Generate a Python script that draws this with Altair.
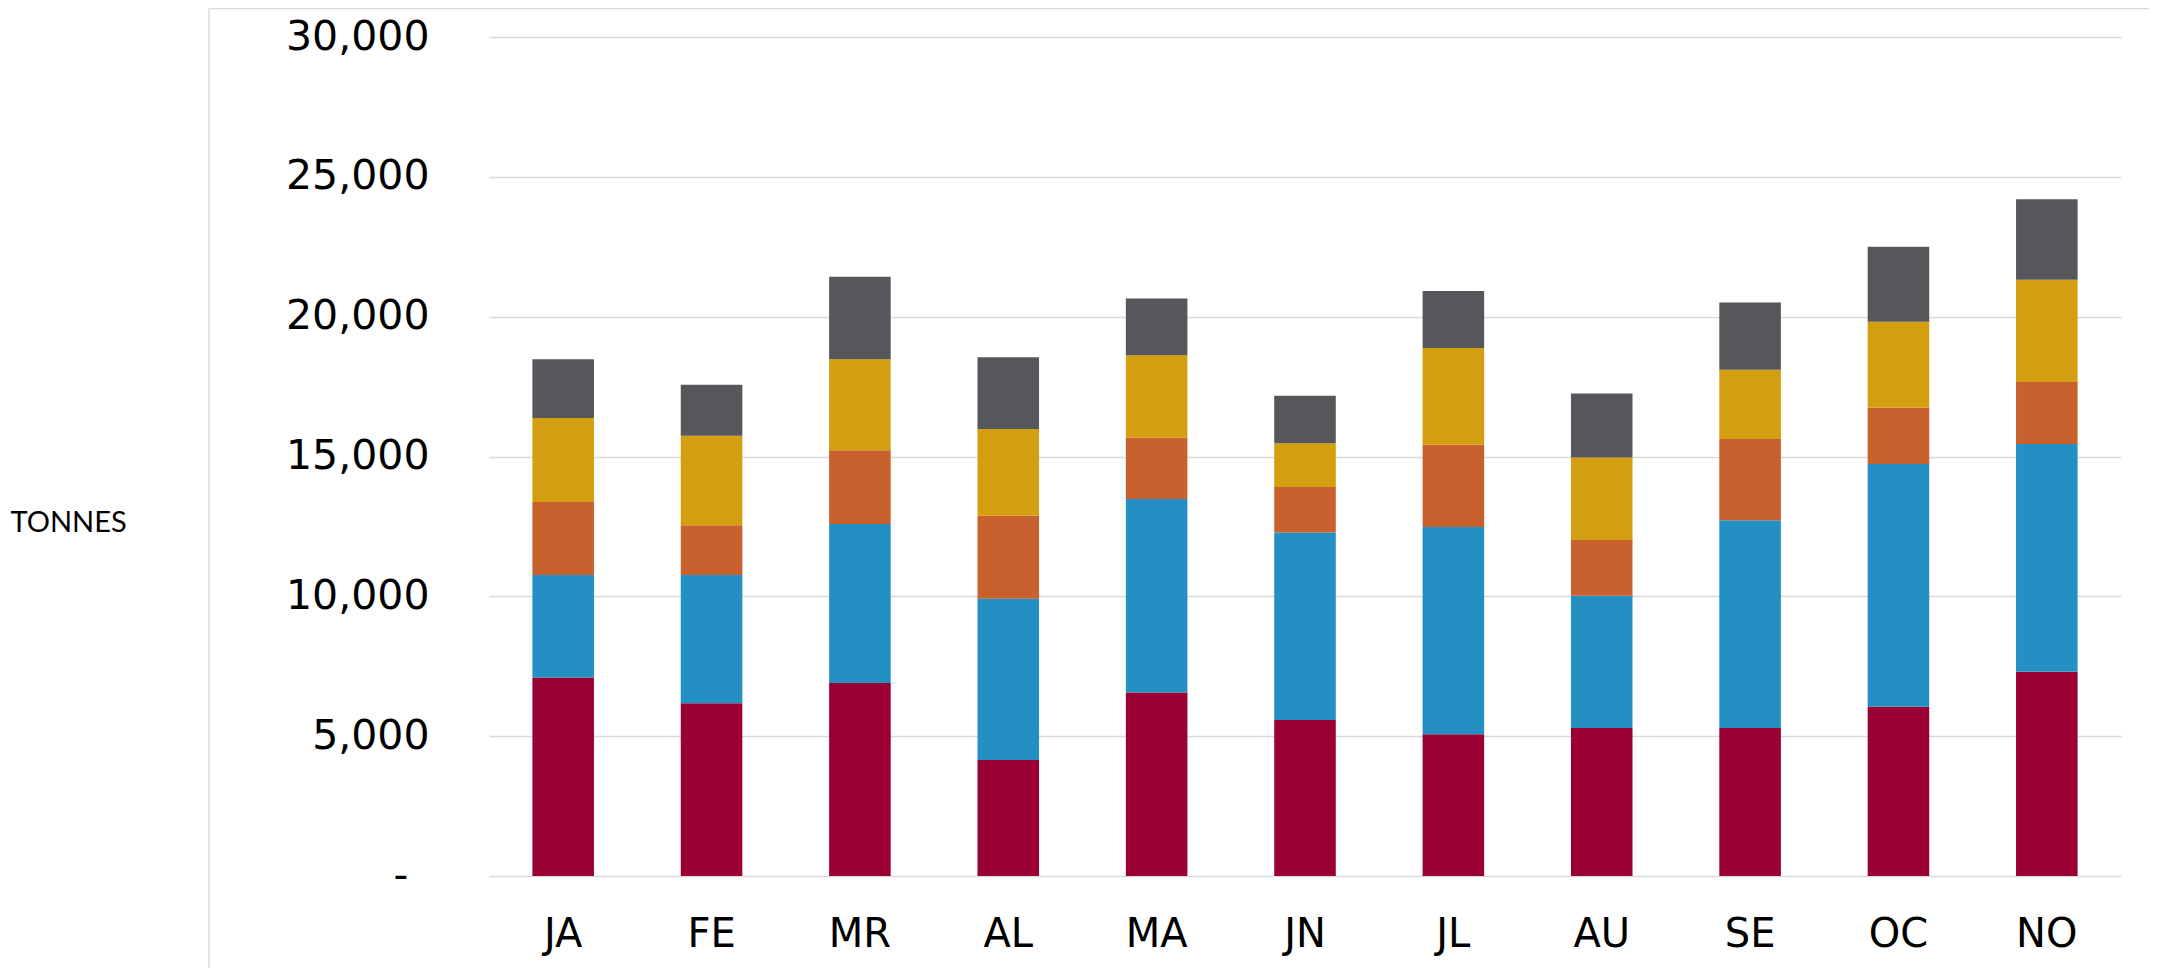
import altair as alt
import pandas as pd

months = ["JA", "FE", "MR", "AL", "MA", "JN", "JL", "AU", "SE", "OC", "NO"]
series_names = ["Series 1", "Series 2", "Series 3", "Series 4", "Series 5"]
series_colors = ["#9A0036", "#248FC3", "#C8612E", "#D39E10", "#56575B"]
s1 = [7100, 6180, 6900, 4150, 6560, 5580, 5070, 5290, 5290, 6050, 7300]
s2 = [3660, 4580, 5690, 5760, 6920, 6700, 7410, 4730, 7430, 8680, 8150]
s3 = [2610, 1780, 2630, 2970, 2190, 1630, 2940, 1990, 2910, 2010, 2210]
s4 = [3010, 3200, 3260, 3100, 2950, 1560, 3460, 2950, 2470, 3080, 3660]
s5 = [2100, 1830, 2950, 2570, 2030, 1700, 2040, 2290, 2410, 2680, 2880]
y_ticks = [0, 5000, 10000, 15000, 20000, 25000, 30000]

rows = []
for idx, (name, vals) in enumerate(zip(series_names, [s1, s2, s3, s4, s5])):
    for m, v in zip(months, vals):
        rows.append({"month": m, "series": name, "idx": idx, "value": v})
df = pd.DataFrame(rows)

bars = alt.Chart(df).mark_bar().encode(
    x=alt.X("month:N", sort=months,
            scale=alt.Scale(paddingInner=0.585, paddingOuter=0.2925),
            axis=alt.Axis(title=None, labelAngle=0, labelFont="DejaVu Sans",
                          labelFontSize=40, labelColor="#000000", labelPadding=38,
                          ticks=False, domain=False, grid=False)),
    y=alt.Y("value:Q", stack="zero",
            scale=alt.Scale(domain=[0, 30000], nice=False),
            axis=alt.Axis(title="TONNES", titleAngle=0, titleX=-479, titleY=485,
                          titleAlign="left", titleBaseline="middle",
                          titleFont="Lato", titleFontSize=29, titleFontWeight="normal",
                          titleColor="#000000",
                          values=y_ticks, labelFont="DejaVu Sans", labelFontSize=41,
                          labelColor="#000000", labelPadding=60,
                          labelExpr="datum.value == 0 ? '-\u00a0\u2009\u200b' : format(datum.value, ',')",
                          ticks=False, domain=False, grid=True,
                          gridColor="#D9D9D9", gridWidth=1.3)),
    color=alt.Color("series:N", scale=alt.Scale(domain=series_names, range=series_colors),
                    legend=None),
    order=alt.Order("idx:Q", sort="ascending"),
)

frame_df = pd.DataFrame({"k": [0]})
left_line = alt.Chart(frame_df).mark_rule(color="#D9D9D9", strokeWidth=1.5).encode(
    x=alt.value(-280), y=alt.value(-28.5), y2=alt.value(945)
)
top_line = alt.Chart(frame_df).mark_rule(color="#D9D9D9", strokeWidth=1.5).encode(
    x=alt.value(-280), x2=alt.value(1670), y=alt.value(-28.5)
)

chart = alt.layer(left_line, top_line, bars).properties(
    width=1632, height=839,
    autosize=alt.AutoSizeParams(type="none"),
    padding={"left": 481, "top": 29, "right": 28, "bottom": 92},
    background="white",
).configure_view(stroke=None)

chart.save("out.html", embed_options={"renderer": "svg", "actions": False})
